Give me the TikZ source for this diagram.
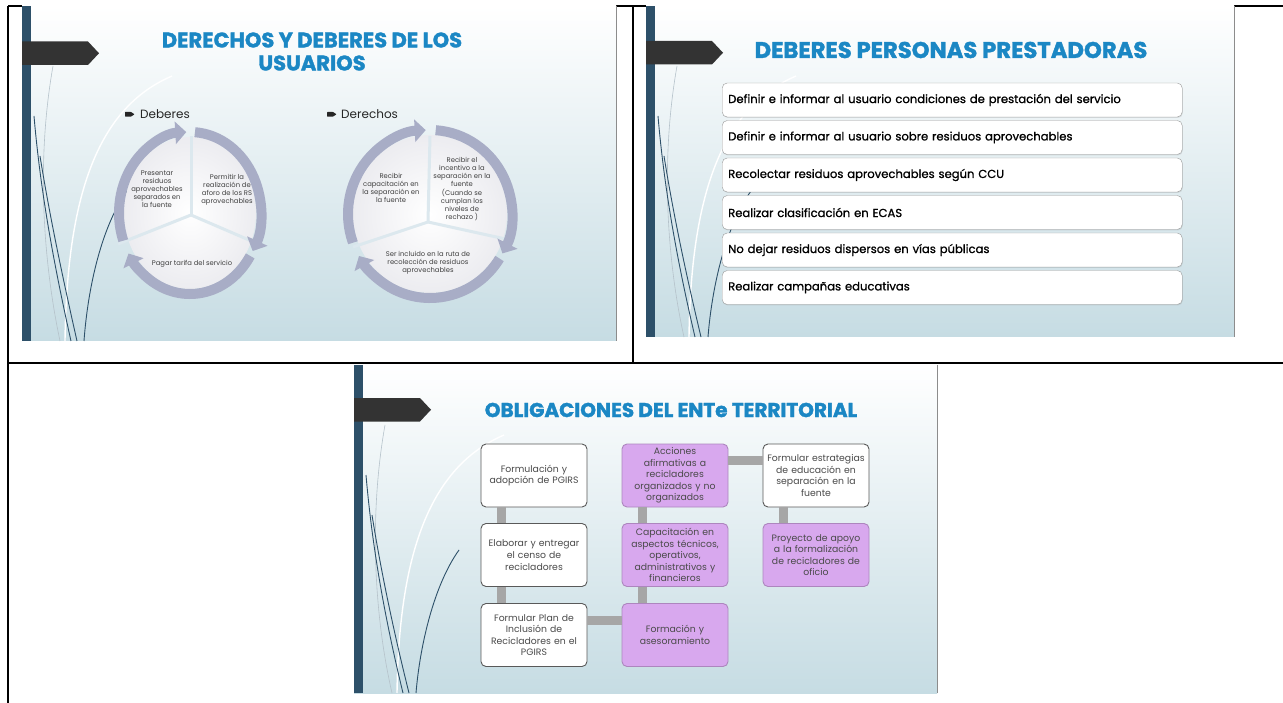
\documentclass[tikz,border=0pt]{standalone}
\usepackage{fontspec}
\setmainfont{Poppins}
\newfontfamily\semibold[FakeBold=1]{Poppins}
\newfontfamily\titlefont[BoldFeatures={FakeBold=1.6}]{Poppins}
\usepackage{tikz}
\usetikzlibrary{arrows.meta,calc,shadows}
\definecolor{band}{HTML}{2D5069}
\definecolor{tagdark}{HTML}{333333}
\definecolor{slidebot}{HTML}{C6DCE3}
\definecolor{titleblue}{HTML}{1B87C4}
\definecolor{ring}{HTML}{A8ADC6}
\definecolor{wedge}{HTML}{ECECF0}
\definecolor{gap}{HTML}{DCE8EE}
\definecolor{lilac}{HTML}{D8A8EE}
\definecolor{bargray}{HTML}{A6A6A6}
\definecolor{boxtext}{HTML}{4A4A4A}
\tikzset{
  tableline/.style={draw=black, line width=2pt},
  slidebg/.style={top color=white, bottom color=slidebot},
  deco/.style={draw=band, line width=0.9pt},
  decolight/.style={draw=white, line width=1.4pt},
  decothin/.style={draw=band!35, line width=0.6pt},
  slidetitle/.style={text=titleblue, align=center, inner sep=0pt},
  ringarc/.style={draw=ring, line width=10pt, -{Triangle[width=22pt,length=11pt]}},
  divider/.style={draw=gap, line width=3pt},
  cyctext/.style={text=black!75, font=\fontsize{6.8}{7.9}\selectfont, align=center, inner sep=0pt},
  head/.style={font=\fontsize{12}{14}\selectfont, text=black!85, anchor=west, inner sep=0pt},
  duty/.style={draw=black!40, fill=white, rounded corners=5pt, text width=448pt,
    minimum height=34pt, inner xsep=6pt, align=left, anchor=west,
    font=\semibold\fontsize{11.6}{13}\selectfont,
    drop shadow={opacity=0.2, shadow xshift=0.6pt, shadow yshift=-1pt}},
  whitebox/.style={draw=black!65, line width=0.9pt, fill=white, rounded corners=5pt,
    minimum width=106pt, minimum height=63pt, inner sep=1pt, text width=104pt,
    align=center, text=boxtext, font=\fontsize{9.3}{11.6}\selectfont},
  lilacbox/.style={whitebox, fill=lilac, draw=lilac!80!black},
  linkbar/.style={draw=bargray, line width=9pt},
}

\begin{document}
\begin{tikzpicture}[x=1pt, y=-1pt]
  \useasboundingbox (0,0) rectangle (1283,703);
  \fill[white] (0,0) rectangle (1283,703);
  % table rules
  \draw[tableline] (8,6) -- (1283,6);
  \draw[tableline] (8,6) -- (8,703);
  \draw[tableline] (633,6) -- (633,363);
  \draw[tableline] (8,363) -- (1283,363);

  % slide backgrounds
  \foreach \sx/\sy/\sw/\sh/\ty in {22/6/594/335/35.5, 646/6/588/331/35, 354/365/583/328/33}{
    \begin{scope}[shift={(\sx,\sy)}]
      \shade[slidebg] (0,0) rectangle (\sw,\sh);
      \draw[draw=black!45, line width=0.8pt] (\sw,0) -- (\sw,\sh);
      \draw[decolight] (43,\sh) .. controls (45,180) and (80,100) .. (150,70);
      \draw[decothin] (38,\sh) .. controls (20,250) and (15,150) .. (31,60);
      \draw[deco] (49,\sh) .. controls (30,250) and (18,180) .. (12,110);
      \draw[deco] (55,\sh) .. controls (38,260) and (26,200) .. (18,150);
      \draw[deco] (62,\sh) .. controls (66,280) and (80,220) .. (105,185);
      \fill[band] (0,0) rectangle (9,\sh);
      \fill[tagdark] (0,\ty) -- (66,\ty) -- (77,\ty+11.75) -- (66,\ty+23.5) -- (0,\ty+23.5) -- cycle;
    \end{scope}
  }

  % slide 1
  \node[slidetitle, font=\titlefont\bfseries\fontsize{21}{23}\selectfont] (t1) at (312,51.5)
    {DERECHOS Y DEBERES DE LOS\\USUARIOS};
  \node[head] (deb) at (140,114) {Deberes};
  \node[head] (der) at (341,114) {Derechos};
  \fill[black!85, rounded corners=0.5pt] (125,112) -- (131,112) -- (134.5,114.3) -- (131,116.6) -- (125,116.6) -- cycle;
  \fill[black!85, rounded corners=0.5pt] (327,112) -- (333,112) -- (336.5,114.3) -- (333,116.6) -- (327,116.6) -- cycle;

  \coordinate (r1c) at (190,213);
  \coordinate (r1m) at (191,215);
  \shade[inner color=white, outer color=wedge] (r1c) ellipse[x radius=66, y radius=76];
  \draw[divider] (r1m) -- (191,136);
  \draw[divider] (r1m) -- (118,244);
  \draw[divider] (r1m) -- (263,246);
  \draw[ringarc] ([shift={(-86:71 and 81)}]r1c) arc[start angle=-86, end angle=28, x radius=71, y radius=81];
  \draw[ringarc] ([shift={(32:71 and 81)}]r1c) arc[start angle=32, end angle=150, x radius=71, y radius=81];
  \draw[ringarc] ([shift={(160:71 and 81)}]r1c) arc[start angle=160, end angle=267, x radius=71, y radius=81];
  \node[cyctext] (p1) at (157,189) {Presentar\\residuos\\aprovechables\\separados en\\la fuente};
  \node[cyctext] (p2) at (227,190) {Permitir la\\realización de\\aforo de los RS\\aprovechables};
  \node[cyctext] (p3) at (192,264) {Pagar tarifa del servicio};

  \coordinate (r2c) at (430,214);
  \coordinate (r2m) at (428,222);
  \shade[inner color=white, outer color=wedge] (r2c) ellipse[x radius=77, y radius=79];
  \draw[divider] (r2m) -- (430,136);
  \draw[divider] (r2m) -- (353,247);
  \draw[divider] (r2m) -- (510,240);
  \draw[ringarc] ([shift={(-86:82 and 84)}]r2c) arc[start angle=-86, end angle=28, x radius=82, y radius=84];
  \draw[ringarc] ([shift={(32:82 and 84)}]r2c) arc[start angle=32, end angle=150, x radius=82, y radius=84];
  \draw[ringarc] ([shift={(160:82 and 84)}]r2c) arc[start angle=160, end angle=267, x radius=82, y radius=84];
  \node[cyctext] (q1) at (391,188) {Recibir\\capacitación en\\la separación en\\la fuente};
  \node[cyctext] (q2) at (462,189) {Recibir el\\incentivo a la\\separación en la\\fuente\\[2pt](Cuando se\\cumplan los\\niveles de\\rechazo )};
  \node[cyctext] (q3) at (428,263) {Ser incluido en la ruta de\\recolección de residuos\\aprovechables};

  % slide 2
  \node[slidetitle, font=\titlefont\bfseries\fontsize{22.7}{25}\selectfont] (t2) at (951,50)
    {DEBERES PERSONAS PRESTADORAS};
  \foreach \txt [count=\i] in {Definir e informar al usuario condiciones de prestación del servicio,
      Definir e informar al usuario sobre residuos aprovechables,
      Recolectar residuos aprovechables según CCU,
      Realizar clasificación en ECAS,
      No dejar residuos dispersos en vías públicas,
      Realizar campañas educativas}
    \node[duty] (d\i) at (722,62.5+37.5*\i) {\txt};

  % slide 3
  \node[slidetitle, font=\titlefont\bfseries\fontsize{20}{23}\selectfont] (t3) at (671,410)
    {OBLIGACIONES DEL ENTe TERRITORIAL};
  \node[whitebox] (c1r1) at (534,475.5) {Formulación y\\adopción de PGIRS};
  \node[whitebox] (c1r2) at (534,555) {Elaborar y entregar\\el censo de\\recicladores};
  \node[whitebox] (c1r3) at (534,635) {Formular Plan de\\Inclusión de\\Recicladores en el\\PGIRS};
  \node[lilacbox] (c2r1) at (675,475.5) {Acciones\\afirmativas a\\recicladores\\organizados y no\\organizados};
  \node[lilacbox] (c2r2) at (675,555) {Capacitación en\\aspectos técnicos,\\operativos,\\administrativos y\\financieros};
  \node[lilacbox] (c2r3) at (675,635) {Formación y\\asesoramiento};
  \node[whitebox] (c3r1) at (816,475.5) {Formular estrategias\\de educación en\\separación en la\\fuente};
  \node[lilacbox] (c3r2) at (816,555) {Proyecto de apoyo\\a la formalización\\de recicladores de\\oficio};
  \draw[linkbar] ([xshift=21pt]c1r1.south west) -- ([xshift=21pt]c1r2.north west);
  \draw[linkbar] ([xshift=21pt]c1r2.south west) -- ([xshift=21pt]c1r3.north west);
  \draw[linkbar] ([yshift=-17pt]c1r3.north east) -- ([yshift=-17pt]c2r3.north west);
  \draw[linkbar] ([xshift=21pt]c2r3.north west) -- ([xshift=21pt]c2r2.south west);
  \draw[linkbar] ([xshift=21pt]c2r2.north west) -- ([xshift=21pt]c2r1.south west);
  \draw[linkbar] ([yshift=-17pt]c2r1.north east) -- ([yshift=-17pt]c3r1.north west);
  \draw[linkbar] ([xshift=21pt]c3r1.south west) -- ([xshift=21pt]c3r2.north west);
\end{tikzpicture}
\end{document}
